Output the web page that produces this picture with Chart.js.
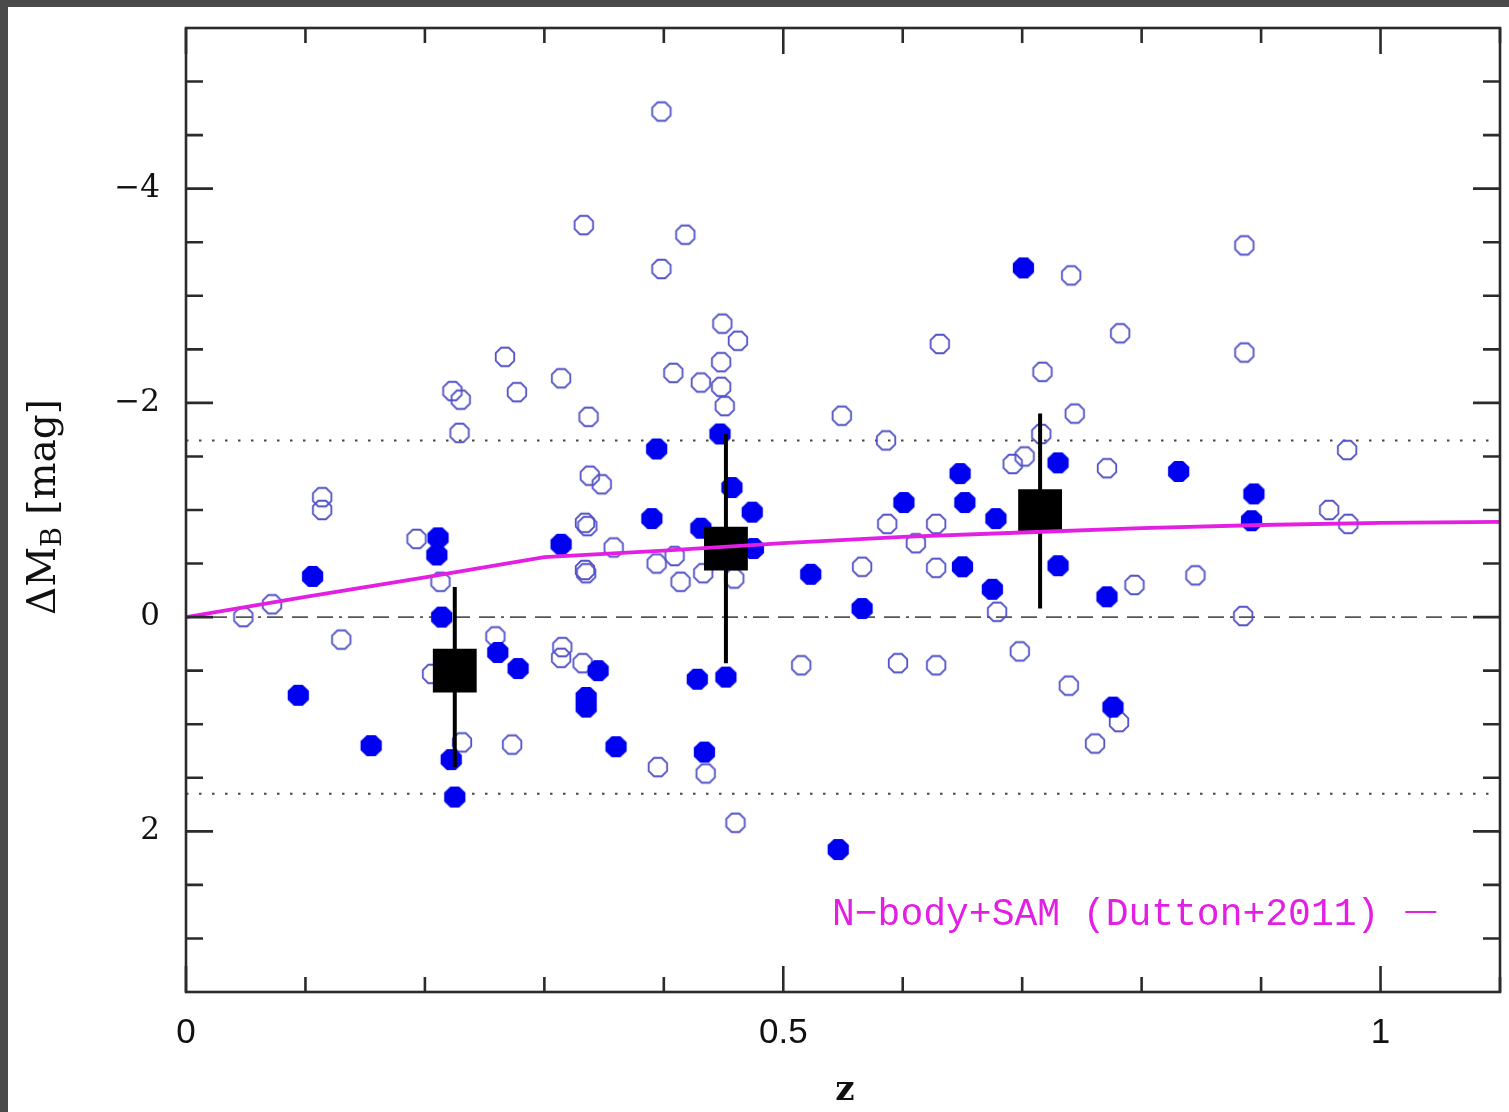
<!DOCTYPE html>
<html>
<head>
<meta charset="utf-8">
<title>Delta M_B vs redshift</title>
<script src="https://cdn.jsdelivr.net/npm/chart.js@4.4.0/dist/chart.umd.min.js"></script>
<style>
  html, body { margin: 0; padding: 0; background: #fff; }
  #wrap {
    position: absolute; left: 0; top: 0;
    width: 1501px; height: 1105px;
    border-left: 8px solid #4a4a4a;
    border-top: 7px solid #4a4a4a;
    background: #fff;
  }
  #wrap canvas { display: block; }
</style>
</head>
<body>
<div id="wrap"><canvas id="chart" width="1501" height="1105"></canvas></div>
<script>
// individual galaxies, open symbols
const openZ = [0.048, 0.072, 0.114, 0.114, 0.130, 0.193, 0.213, 0.206, 0.223, 0.230,
  0.229, 0.231, 0.259, 0.267, 0.277, 0.273, 0.314, 0.315, 0.314, 0.333,
  0.337, 0.338, 0.348, 0.334, 0.336, 0.334, 0.335, 0.332, 0.358, 0.395,
  0.394, 0.398, 0.398, 0.418, 0.408, 0.409, 0.414, 0.431, 0.433, 0.435,
  0.449, 0.462, 0.448, 0.448, 0.451, 0.459, 0.460, 0.515, 0.549, 0.566,
  0.586, 0.587, 0.596, 0.611, 0.628, 0.628, 0.631, 0.628, 0.679, 0.692,
  0.702, 0.698, 0.717, 0.716, 0.741, 0.744, 0.739, 0.761, 0.771, 0.782,
  0.781, 0.794, 0.845, 0.885, 0.886, 0.886, 0.957, 0.972, 0.973];
const openDM = [0.00, -0.12, -1.12, -1.00, 0.21, -0.73, -0.33, 0.53, -2.11, -2.03,
  -1.72, 1.17, 0.18, -2.43, -2.10, 1.19, -2.23, 0.28, 0.38, -3.66,
  -1.87, -1.32, -1.24, -0.88, -0.85, -0.44, -0.41, 0.43, -0.65, 1.40,
  -0.50, -4.72, -3.25, -3.57, -2.28, -0.57, -0.33, -2.19, -0.41, 1.46,
  -2.74, -2.58, -2.38, -2.15, -1.97, -0.36, 1.92, 0.45, -1.88, -0.47,
  -1.65, -0.87, 0.43, -0.69, -0.87, -0.46, -2.55, 0.45, -0.05, -1.43,
  -1.50, 0.32, -2.29, -1.71, -3.19, -1.90, 0.64, 1.18, -1.39, -2.65,
  0.98, -0.30, -0.39, -0.01, -3.47, -2.47, -1.00, -1.56, -0.87];

// individual galaxies, filled symbols
const filledZ = [0.094, 0.106, 0.155, 0.211, 0.210, 0.214, 0.222, 0.225, 0.261, 0.278,
  0.314, 0.335, 0.335, 0.345, 0.360, 0.394, 0.390, 0.428, 0.431, 0.434,
  0.447, 0.457, 0.452, 0.474, 0.475, 0.523, 0.546, 0.566, 0.601, 0.648,
  0.652, 0.650, 0.678, 0.675, 0.701, 0.730, 0.730, 0.771, 0.776, 0.831,
  0.894, 0.892];
const filledDM = [0.73, -0.38, 1.20, -0.74, -0.58, 0.00, 1.33, 1.68, 0.33, 0.48,
  -0.68, 0.75, 0.84, 0.50, 1.21, -1.57, -0.92, 0.58, -0.83, 1.26,
  -1.71, -1.21, 0.56, -0.98, -0.64, -0.40, 2.17, -0.08, -1.07, -1.34,
  -1.07, -0.47, -0.92, -0.26, -3.26, -1.44, -0.48, -0.19, 0.84, -1.36,
  -1.15, -0.90];

// binned means with error bars
const binZ = [0.225, 0.452, 0.715];
const binDM = [0.50, -0.64, -0.99];
const binLo = [1.40, 0.43, -0.08];
const binHi = [-0.28, -1.71, -1.90];

// N-body + SAM prediction
const modelZ = [0, 0.1, 0.2, 0.3, 0.4, 0.5, 0.6, 0.7, 0.8, 0.9, 1.0, 1.1];
const modelDM = [0, -0.19, -0.37, -0.56, -0.62, -0.69, -0.75, -0.79, -0.83, -0.86, -0.88, -0.89];

// reference levels
const refZ = [0, 1.1];
const scatterLevels = [-1.65, 1.65];
const zeroLevel = 0;

// axis ticks
const xTicks = [0, 0.1, 0.2, 0.3, 0.4, 0.5, 0.6, 0.7, 0.8, 0.9, 1, 1.1];
const xLabelTicks = [0, 0.5, 1];
const yTicks = [-5, -4.5, -4, -3.5, -3, -2.5, -2, -1.5, -1, -0.5, 0, 0.5, 1, 1.5, 2, 2.5, 3];
const yLabelTicks = [-4, -2, 0, 2];

const MAGENTA = '#e21fe2';

const toPts = (xs, ys) => xs.map((x, i) => ({ x, y: ys[i] }));
const levelPts = v => refZ.map(x => ({ x, y: v }));

// octagonal markers
function octagon(r, fill, stroke, lw) {
  const c = document.createElement('canvas');
  const s = Math.ceil(2 * r + lw + 2);
  c.width = c.height = s;
  const g = c.getContext('2d');
  g.translate(s / 2, s / 2);
  g.beginPath();
  for (let k = 0; k < 8; k++) {
    const a = Math.PI / 8 + k * Math.PI / 4;
    g.lineTo(r * Math.cos(a), r * Math.sin(a));
  }
  g.closePath();
  if (fill) { g.fillStyle = fill; g.fill(); }
  if (stroke) { g.strokeStyle = stroke; g.lineWidth = lw; g.stroke(); }
  return c;
}

const openMarker = octagon(10, null, '#5252c8', 1.8);
const filledMarker = octagon(11.5, '#0000f0', null, 0);

// frame, inward ticks, error bars, titles and key
const decor = {
  id: 'decor',
  beforeDatasetDraw(chart, args) {
    if (args.meta.label !== 'bins') return;
    const { ctx, scales: { x, y } } = chart;
    ctx.save();
    ctx.strokeStyle = '#000';
    ctx.lineWidth = 4;
    ctx.beginPath();
    binZ.forEach((z, i) => {
      const px = x.getPixelForValue(z);
      ctx.moveTo(px, y.getPixelForValue(binLo[i]));
      ctx.lineTo(px, y.getPixelForValue(binHi[i]));
    });
    ctx.stroke();
    ctx.restore();
  },
  afterDatasetsDraw(chart) {
    const { ctx, chartArea: a, scales: { x, y } } = chart;
    ctx.save();
    ctx.strokeStyle = '#2b2b2b';
    ctx.lineWidth = 2.6;
    ctx.strokeRect(a.left, a.top, a.right - a.left, a.bottom - a.top);
    ctx.beginPath();
    xTicks.forEach(v => {
      const px = x.getPixelForValue(v);
      const len = xLabelTicks.includes(v) ? 26 : 15;
      ctx.moveTo(px, a.bottom); ctx.lineTo(px, a.bottom - len);
      ctx.moveTo(px, a.top); ctx.lineTo(px, a.top + len);
    });
    yTicks.forEach(v => {
      const py = y.getPixelForValue(v);
      const len = yLabelTicks.includes(v) ? 27 : 17;
      ctx.moveTo(a.left, py); ctx.lineTo(a.left + len, py);
      ctx.moveTo(a.right, py); ctx.lineTo(a.right - len, py);
    });
    ctx.stroke();

    // key
    ctx.font = '38px "Liberation Mono", monospace';
    ctx.fillStyle = MAGENTA;
    ctx.textBaseline = 'alphabetic';
    ctx.textAlign = 'left';
    const label = 'N\u2212body+SAM (Dutton+2011)';
    const tx = a.right - 668, ty = a.bottom - 67;
    ctx.fillText(label, tx, ty);
    const tw = ctx.measureText(label).width;
    ctx.strokeStyle = MAGENTA;
    ctx.lineWidth = 2;
    ctx.beginPath();
    ctx.moveTo(tx + tw + 26, ty - 13);
    ctx.lineTo(tx + tw + 57, ty - 13);
    ctx.stroke();
    ctx.restore();
  },
  afterDraw(chart) {
    const { ctx, chartArea: a } = chart;
    ctx.save();
    ctx.fillStyle = '#111';

    // x title
    ctx.font = 'bold 34px "DejaVu Serif", serif';
    ctx.textAlign = 'center';
    ctx.textBaseline = 'middle';
    ctx.fillText('z', (a.left + a.right) / 2 + 2, 1084);

    // y title with subscript
    ctx.translate(37, (a.top + a.bottom) / 2 - 3);
    ctx.rotate(-Math.PI / 2);
    ctx.textBaseline = 'middle';
    ctx.textAlign = 'left';
    const big = '39px "DejaVu Serif", serif';
    const small = '27px "DejaVu Serif", serif';
    const parts = [['\u0394M', big, 0], ['B', small, 9], [' [mag]', big, 0]];
    let total = 0;
    parts.forEach(p => { ctx.font = p[1]; total += ctx.measureText(p[0]).width; });
    let cx = -total / 2;
    parts.forEach(p => {
      ctx.font = p[1];
      ctx.fillText(p[0], cx, p[2]);
      cx += ctx.measureText(p[0]).width;
    });
    ctx.restore();
  }
};

new Chart(document.getElementById('chart'), {
  type: 'scatter',
  data: {
    datasets: [
      {
        label: 'model', type: 'line', order: 0,
        data: toPts(modelZ, modelDM),
        borderColor: MAGENTA, borderWidth: 3.8, pointRadius: 0, tension: 0, fill: false
      },
      {
        label: 'bins', order: 1,
        data: toPts(binZ, binDM),
        pointStyle: 'rect', pointRadius: 31, backgroundColor: '#000', borderColor: '#000', borderWidth: 0
      },
      {
        label: 'filled', order: 2,
        data: toPts(filledZ, filledDM),
        pointStyle: filledMarker
      },
      {
        label: 'open', order: 3,
        data: toPts(openZ, openDM),
        pointStyle: openMarker
      },
      {
        label: 'zero', type: 'line', order: 4,
        data: levelPts(zeroLevel),
        borderColor: '#555', borderWidth: 1.6, borderDash: [16, 9, 16, 9, 16, 6, 3, 6], pointRadius: 0
      },
      {
        label: 'scatterLow', type: 'line', order: 5,
        data: levelPts(scatterLevels[0]),
        borderColor: '#444', borderWidth: 2, borderDash: [2.5, 10.5], pointRadius: 0
      },
      {
        label: 'scatterHigh', type: 'line', order: 5,
        data: levelPts(scatterLevels[1]),
        borderColor: '#444', borderWidth: 2, borderDash: [2.5, 10.5], pointRadius: 0
      }
    ]
  },
  options: {
    responsive: false,
    animation: false,
    events: [],
    layout: { autoPadding: false, padding: { top: 21, right: 9, left: 0, bottom: 0 } },
    plugins: { legend: { display: false }, tooltip: { enabled: false } },
    scales: {
      x: {
        type: 'linear', min: 0, max: 1.1,
        grid: { display: false, drawTicks: false },
        border: { display: false },
        afterBuildTicks: s => { s.ticks = xLabelTicks.map(v => ({ value: v })); },
        afterFit: s => { s.height = 120; s.paddingLeft = 0; s.paddingRight = 0; },
        ticks: {
          autoSkip: false, maxRotation: 0, padding: 20,
          color: '#111',
          font: { family: '"Liberation Sans", sans-serif', size: 35 },
          callback: v => String(v)
        }
      },
      y: {
        type: 'linear', min: -5.5, max: 3.5, reverse: true,
        grid: { display: false, drawTicks: false },
        border: { display: false },
        afterBuildTicks: s => { s.ticks = yLabelTicks.map(v => ({ value: v })); },
        afterFit: s => { s.width = 178; s.paddingTop = 0; s.paddingBottom = 0; },
        ticks: {
          autoSkip: false, padding: 26,
          color: '#111',
          font: { family: '"DejaVu Serif", serif', size: 31 },
          callback: v => (v < 0 ? '\u2212' + Math.abs(v) : String(v))
        }
      }
    }
  },
  plugins: [decor]
});
</script>
</body>
</html>
